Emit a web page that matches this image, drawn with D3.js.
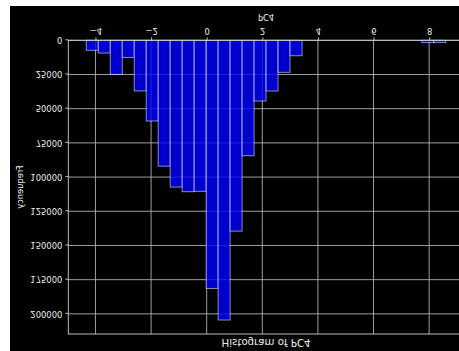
<!DOCTYPE html>
<html>
<head>
<meta charset="utf-8">
<script src="https://cdn.jsdelivr.net/npm/d3@7/dist/d3.min.js"></script>
<style>
  html, body { margin: 0; padding: 0; background: #ffffff; }
  svg { display: block; font-family: "DejaVu Sans", sans-serif; }
</style>
</head>
<body>
<svg id="chart" width="459" height="351"></svg>
<script>
// Histogram of PC4: 30 equal-width bins over the observed range
const binRange = [-4.33, 8.60];
const binCounts = [
  7300, 9300, 24900, 12500, 37000, 59000, 92000, 107300, 110700, 110400,
  181400, 204500, 139500, 84400, 44400, 37100, 23400, 11300, 0, 0,
  0, 0, 0, 0, 0, 0, 0, 0, 1700, 1700
];
const xTicks = [-4, -2, 0, 2, 4, 6, 8];
const yTicks = [0, 25000, 50000, 75000, 100000, 125000, 150000, 175000, 200000];
const titleText = "Histogram of PC4";
const xLabel = "PC4";
const yLabel = "Frequency";

const W = 459, H = 351;
const svg = d3.select("#chart");

// whole figure is drawn mirrored top-to-bottom
const root = svg.append("g").attr("transform", `translate(0,${H}) scale(1,-1)`);

root.append("rect").attr("x", 10).attr("y", 0).attr("width", W - 10).attr("height", 345)
  .attr("fill", "#000000");

const plot = { left: 68.3, right: 463.8, top: 17, bottom: 310.7 };

const nBins = binCounts.length;
const binWidth = (binRange[1] - binRange[0]) / nBins;
const bins = binCounts.map((c, i) => ({
  x0: binRange[0] + i * binWidth,
  x1: binRange[0] + (i + 1) * binWidth,
  count: c
}));

const span = binRange[1] - binRange[0];
const x = d3.scaleLinear()
  .domain([binRange[0] - 0.05 * span, binRange[1] + 0.05 * span])
  .range([plot.left, plot.right]);
const yMax = d3.max(binCounts) * 1.05;
const y = d3.scaleLinear().domain([0, yMax]).range([plot.bottom, plot.top]);

const gridColor = "#b0b0b0";
const textColor = "#eeeeee";

// grid
const grid = root.append("g");
grid.selectAll("line.vx").data(xTicks).join("line")
  .attr("x1", d => x(d)).attr("x2", d => x(d))
  .attr("y1", plot.top).attr("y2", plot.bottom)
  .attr("stroke", gridColor).attr("stroke-width", 0.9);
grid.selectAll("line.hy").data(yTicks).join("line")
  .attr("x1", plot.left).attr("x2", plot.right)
  .attr("y1", d => y(d)).attr("y2", d => y(d))
  .attr("stroke", gridColor).attr("stroke-width", 0.9);

// bars
root.append("g").selectAll("rect").data(bins.filter(b => b.count > 0)).join("rect")
  .attr("x", d => x(d.x0))
  .attr("width", d => x(d.x1) - x(d.x0))
  .attr("y", d => y(d.count))
  .attr("height", d => y(0) - y(d.count))
  .attr("fill", "#0000ff")
  .attr("fill-opacity", 0.8)
  .attr("stroke", "#ffffff")
  .attr("stroke-opacity", 0.6)
  .attr("stroke-width", 0.9);

// frame
root.append("rect")
  .attr("x", plot.left).attr("y", plot.top)
  .attr("width", plot.right - plot.left).attr("height", plot.bottom - plot.top)
  .attr("fill", "none").attr("stroke", "#d0d0d0").attr("stroke-width", 0.9);

// axes
const fmtX = d3.format("d");
const xAxis = d3.axisBottom(x).tickValues(xTicks).tickFormat(fmtX).tickSize(3).tickPadding(3);
const xg = root.append("g").attr("transform", `translate(0,${plot.bottom})`).call(xAxis);
const yAxis = d3.axisLeft(y).tickValues(yTicks).tickFormat(d3.format("d")).tickSize(3).tickPadding(3);
const yg = root.append("g").attr("transform", `translate(${plot.left},0)`).call(yAxis);

[xg, yg].forEach(g => {
  g.select(".domain").remove();
  g.selectAll(".tick line").attr("stroke", "#d0d0d0").attr("stroke-width", 0.9);
  g.selectAll(".tick text").attr("fill", textColor)
    .style("font-family", "DejaVu Sans").style("font-size", "8.4px");
});

// labels
root.append("text")
  .attr("x", (plot.left + plot.right) / 2).attr("y", 337)
  .attr("text-anchor", "middle").attr("fill", textColor)
  .style("font-size", "8.4px").text(xLabel);

root.append("text")
  .attr("transform", `translate(23,${(plot.top + plot.bottom) / 2}) rotate(-90)`)
  .attr("text-anchor", "middle").attr("fill", textColor)
  .style("font-size", "8.4px").text(yLabel);

root.append("text")
  .attr("x", (plot.left + plot.right) / 2).attr("y", 12)
  .attr("text-anchor", "middle").attr("fill", textColor)
  .style("font-size", "10.2px").text(titleText);
</script>
</body>
</html>
